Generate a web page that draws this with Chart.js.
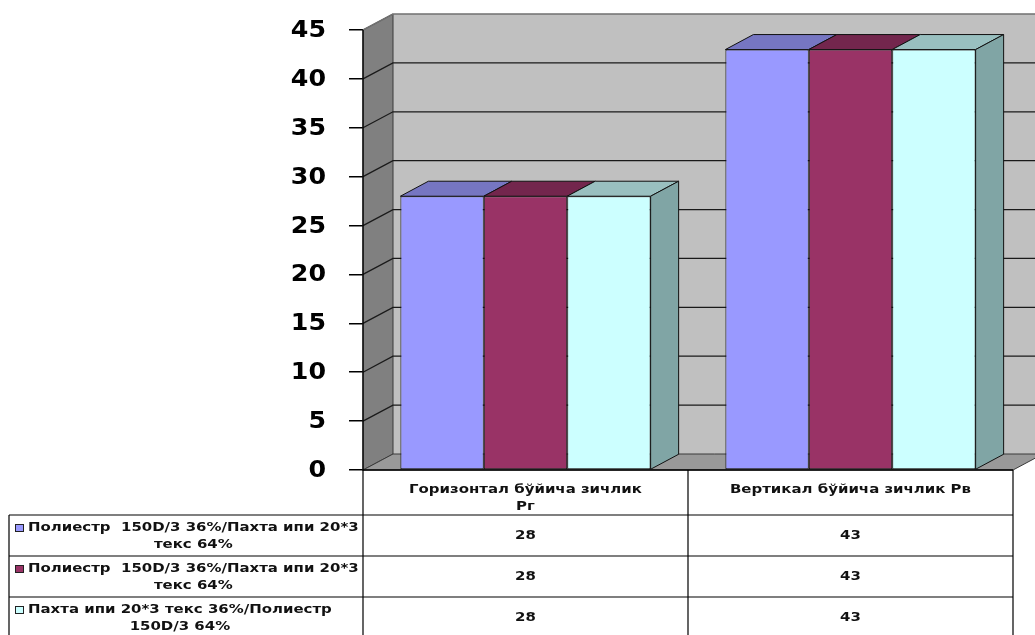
<!DOCTYPE html>
<html>
<head>
<meta charset="utf-8">
<title>Зичлик</title>
<script src="https://cdn.jsdelivr.net/npm/chart.js@4.4.1/dist/chart.umd.min.js"></script>
<style>
  html, body { margin: 0; padding: 0; background: #fff; }
  #chart { display: block; }
</style>
</head>
<body>
<canvas id="chart" width="1035" height="635"></canvas>
<script>
// === DATA ===
const categories = [["Горизонтал бўйича зичлик", "Рг"], ["Вертикал бўйича зичлик Рв"]];
const seriesNames = [
  "Полиестр  150D/3 36%/Пахта ипи 20*3 текс 64%",
  "Полиестр  150D/3 36%/Пахта ипи 20*3 текс 64%",
  "Пахта ипи 20*3 текс 36%/Полиестр 150D/3 64%"
];
const polyCottonA = [28, 43];
const polyCottonB = [28, 43];
const cottonPoly = [28, 43];
const yMax = 45, yStep = 5;

// === STYLE ===
const frontColors = ["#9999ff", "#993366", "#ccffff"];
const topColors = ["#7676c2", "#73264d", "#99c0c0"];
const sideColors = ["#7373bf", "#73264d", "#80a5a5"];
const FONT = '"DejaVu Sans", Verdana, sans-serif';
const WALL = { dx: 30, dy: -16 };
const BAR = { dx: 28, dy: -15 };
const STRETCH = 1.15; // the source text is drawn wider than it is tall

function poly(ctx, pts, fill, stroke) {
  ctx.beginPath();
  pts.forEach((p, i) => i ? ctx.lineTo(p[0], p[1]) : ctx.moveTo(p[0], p[1]));
  ctx.closePath();
  ctx.fillStyle = fill; ctx.fill();
  if (stroke) { ctx.strokeStyle = stroke; ctx.lineWidth = 1; ctx.stroke(); }
}

function textW(ctx, s, k) { return ctx.measureText(s).width * k; }

// text anchored by its centre (align center) or right edge (align right), stretched by k
function wideText(ctx, s, x, y, k, align) {
  const w = textW(ctx, s, k);
  const left = align === "right" ? x - w : x - w / 2;
  ctx.save();
  ctx.translate(left, y);
  ctx.scale(k, 1);
  ctx.textAlign = "left";
  ctx.fillText(s, 0, 0);
  ctx.restore();
}

function wrap(ctx, text, maxW, k) {
  const words = text.split(" ");
  const lines = [];
  let cur = "";
  words.forEach(w => {
    const test = cur === "" ? w : cur + " " + w;
    if (textW(ctx, test, k) > maxW && cur.trim() !== "") {
      lines.push(cur); cur = w;
    } else cur = test;
  });
  if (cur) lines.push(cur);
  return lines;
}

// walls, floor, 3D faces and data table
const excel3d = {
  id: "excel3d",
  beforeDatasetsDraw(chart) {
    const { ctx, chartArea: a, scales: { y } } = chart;
    const { dx, dy } = WALL;
    const top = y.getPixelForValue(yMax), bot = y.getPixelForValue(0);
    ctx.save();
    ctx.fillStyle = "#c0c0c0";
    ctx.fillRect(a.left + dx, top + dy, a.right - a.left, bot - top);
    poly(ctx, [[a.left, top], [a.left + dx, top + dy], [a.left + dx, bot + dy], [a.left, bot]], "#808080", "#3a3a3a");
    poly(ctx, [[a.left, bot], [a.right, bot], [a.right + dx, bot + dy], [a.left + dx, bot + dy]], "#999999", "#3a3a3a");
    ctx.strokeStyle = "#1a1a1a"; ctx.lineWidth = 1.3;
    y.ticks.forEach(t => {
      if (t.value === 0 || t.value === yMax) return;
      const py = y.getPixelForValue(t.value);
      ctx.beginPath();
      ctx.moveTo(a.left, py); ctx.lineTo(a.left + dx, py + dy); ctx.lineTo(a.right + dx, py + dy);
      ctx.stroke();
    });
    ctx.strokeStyle = "#707070"; ctx.lineWidth = 1.5;
    ctx.beginPath();
    ctx.moveTo(a.left, top); ctx.lineTo(a.left + dx, top + dy); ctx.lineTo(a.right + dx, top + dy);
    ctx.stroke();
    ctx.strokeStyle = "#000"; ctx.lineWidth = 1.3;
    ctx.beginPath(); ctx.moveTo(a.left, top); ctx.lineTo(a.left, bot); ctx.lineTo(a.right, bot); ctx.stroke();
    ctx.restore();
  },
  afterDatasetsDraw(chart) {
    const { ctx } = chart;
    const { dx, dy } = BAR;
    const n = chart.data.datasets.length;
    ctx.save();
    chart.data.datasets.forEach((ds, i) => {
      chart.getDatasetMeta(i).data.forEach(bar => {
        const { x, y: top, width, base } = bar.getProps(["x", "y", "width", "base"], true);
        const l = x - width / 2, r = x + width / 2;
        poly(ctx, [[l, top], [r, top], [r + dx, top + dy], [l + dx, top + dy]], topColors[i], "#111");
        if (i === n - 1) poly(ctx, [[r, top], [r + dx, top + dy], [r + dx, base + dy], [r, base]], sideColors[i], "#111");
      });
    });
    ctx.restore();
  },
  afterDraw(chart) {
    const { ctx, chartArea: a, scales: { x, y } } = chart;
    ctx.save();
    ctx.textBaseline = "middle";

    // y tick labels
    ctx.font = "bold 23px " + FONT;
    ctx.fillStyle = "#000";
    y.ticks.forEach(t => wideText(ctx, String(t.value), a.left - 37, y.getPixelForValue(t.value) + 1, 1.1, "right"));

    // data table
    const n = categories.length;
    const colW = (a.right - a.left) / n;
    const headTop = a.bottom, rowTop = a.bottom + 45, rowH = 41, leftX = 9;
    const edges = [a.left];
    for (let i = 0; i < n; i++) edges.push(x.getPixelForValue(i) + colW / 2);
    const bottom = rowTop + rowH * seriesNames.length;

    ctx.strokeStyle = "#000"; ctx.lineWidth = 1.2;
    ctx.beginPath();
    edges.forEach(ex => { ctx.moveTo(ex, headTop); ctx.lineTo(ex, bottom); });
    ctx.moveTo(leftX, rowTop); ctx.lineTo(leftX, bottom);
    for (let r = 0; r <= seriesNames.length; r++) {
      ctx.moveTo(leftX, rowTop + r * rowH); ctx.lineTo(a.right, rowTop + r * rowH);
    }
    ctx.stroke();

    ctx.font = "bold 13px " + FONT;
    ctx.fillStyle = "#111";
    categories.forEach((lines, i) => {
      const cx = x.getPixelForValue(i);
      lines.forEach((ln, k) => wideText(ctx, ln, cx, headTop + 20 + k * 17, STRETCH));
    });

    const datasets = chart.data.datasets;
    seriesNames.forEach((name, r) => {
      const top = rowTop + r * rowH;
      const textX = 28;
      const lines = wrap(ctx, name, a.left - textX, STRETCH);
      const blockW = Math.max(...lines.map(l => textW(ctx, l, STRETCH)));
      ctx.fillStyle = frontColors[r];
      ctx.fillRect(15, top + 9, 9, 8);
      ctx.strokeStyle = "#222"; ctx.lineWidth = 1;
      ctx.strokeRect(15.5, top + 9.5, 8, 7);
      ctx.fillStyle = "#111";
      lines.forEach((ln, k) => wideText(ctx, ln, textX + blockW / 2, top + 13 + k * 17, STRETCH));
      datasets[r].data.forEach((v, i) => wideText(ctx, String(v), x.getPixelForValue(i), top + rowH / 2, STRETCH));
    });
    ctx.restore();
  }
};

new Chart(document.getElementById("chart"), {
  type: "bar",
  data: {
    labels: categories,
    datasets: [
      { label: seriesNames[0], data: polyCottonA, backgroundColor: frontColors[0] },
      { label: seriesNames[1], data: polyCottonB, backgroundColor: frontColors[1] },
      { label: seriesNames[2], data: cottonPoly, backgroundColor: frontColors[2] }
    ]
  },
  options: {
    responsive: false,
    animation: false,
    devicePixelRatio: 1,
    layout: { padding: { top: 30, right: 22, bottom: 165, left: 0 } },
    datasets: {
      bar: { borderColor: "#111", borderWidth: 1, borderSkipped: false,
             categoryPercentage: 0.77, barPercentage: 1 }
    },
    scales: {
      x: { display: false },
      y: {
        min: 0, max: yMax,
        afterFit: s => { s.width = 363; },
        ticks: { stepSize: yStep, display: false },
        grid: { drawOnChartArea: false, tickLength: 14, color: "#000", lineWidth: 1.5 },
        border: { display: true, color: "#000" }
      }
    },
    plugins: { legend: { display: false }, tooltip: { enabled: false } }
  },
  plugins: [excel3d]
});
</script>
</body>
</html>
